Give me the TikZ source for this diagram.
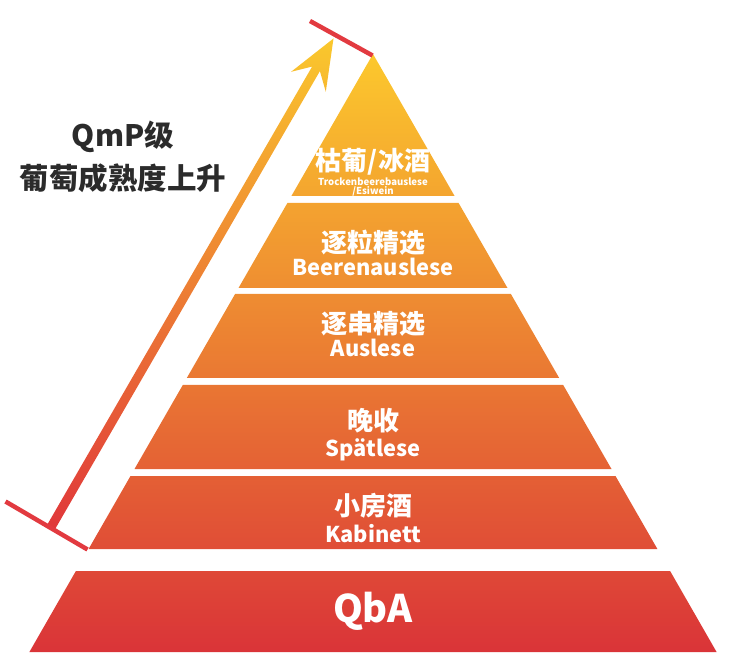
\documentclass[tikz,border=0pt]{standalone}
\usepackage{fontspec}
\setmainfont{Noto Sans CJK SC}
\definecolor{pyrtop}{RGB}{252,200,45}
\definecolor{pyrmid}{RGB}{238,136,50}
\definecolor{pyrbot}{RGB}{218,52,56}
\definecolor{arrtop}{RGB}{250,200,45}
\definecolor{arrmid}{RGB}{240,135,50}
\definecolor{arrbot}{RGB}{224,55,58}
\definecolor{barred}{RGB}{226,58,64}
\definecolor{darktext}{RGB}{43,43,43}
\tikzset{
  cjklbl/.style={text=white, anchor=base, inner sep=0pt, font=\bfseries\fontsize{26}{26}\selectfont},
  latlbl/.style={text=white, anchor=base, inner sep=0pt, font=\bfseries\fontsize{21.8}{21.8}\selectfont},
  tinylbl/.style={text=white, anchor=base, inner sep=0pt, font=\bfseries\fontsize{9.6}{9.6}\selectfont},
  biglbl/.style={text=white, anchor=base, inner sep=0pt, font=\bfseries\fontsize{38}{38}\selectfont},
  sidelbl/.style={text=darktext, anchor=base, inner sep=0pt, font=\bfseries\fontsize{29.5}{29.5}\selectfont},
  barline/.style={draw=barred, line width=4.5pt},
}
\begin{document}
\begin{tikzpicture}[x=1pt,y=-1pt]
\useasboundingbox (0,0) rectangle (750,660);
% pyramid layers
\shade[top color=pyrtop, middle color=pyrmid, bottom color=pyrbot]
  (373,54) -- (454.6,196) -- (291.4,196) -- cycle
  (287.4,203) -- (458.6,203) -- (507.5,288) -- (238.5,288) -- cycle
  (235.1,294) -- (510.9,294) -- (559.2,378) -- (186.8,378) -- cycle
  (182.8,385) -- (563.2,385) -- (611.5,469) -- (134.5,469) -- cycle
  (130.5,476) -- (615.5,476) -- (657.4,549) -- (88.6,549) -- cycle
  (75.9,571) -- (670.1,571) -- (716.6,652) -- (29.4,652) -- cycle;
% arrow
\shade[top color=arrtop, middle color=arrmid, bottom color=arrbot]
  (333.5,38.5) -- (325.8,91.8) -- (319.9,71.1) -- (54.4,530.3)
  -- (46.6,525.8) -- (312.1,66.6) -- (291.1,71.8) -- cycle;
% dimension bars
\coordinate (apex) at (372.5,55.5);
\coordinate (topend) at (310,21);
\coordinate (kcorner) at (87.5,549.5);
\coordinate (botend) at (5.5,501.5);
\draw[barline] (apex) -- (topend);
\draw[barline] (kcorner) -- (botend);
% labels
\node[cjklbl] (t1a) at (373,171) {枯葡/冰酒};
\node[tinylbl] (t1b) at (373,185.5) {Trockenbeerebauslese};
\node[tinylbl] (t1c) at (373,195) {/Esiwein};
\node[cjklbl] (t2a) at (373,252.5) {逐粒精选};
\node[latlbl] (t2b) at (373,276) {Beerenauslese};
\node[cjklbl] (t3a) at (373,333.5) {逐串精选};
\node[latlbl] (t3b) at (373,357) {Auslese};
\node[cjklbl] (t4a) at (373,430.5) {晚收};
\node[latlbl] (t4b) at (373,456) {Spätlese};
\node[cjklbl] (t5a) at (373,515.5) {小房酒};
\node[latlbl] (t5b) at (373,542) {Kabinett};
\node[biglbl] (t6) at (373,622) {QbA};
\node[sidelbl] (s1) at (123,147) {QmP级};
\node[sidelbl] (s2) at (123,190) {葡萄成熟度上升};
\end{tikzpicture}
\end{document}
